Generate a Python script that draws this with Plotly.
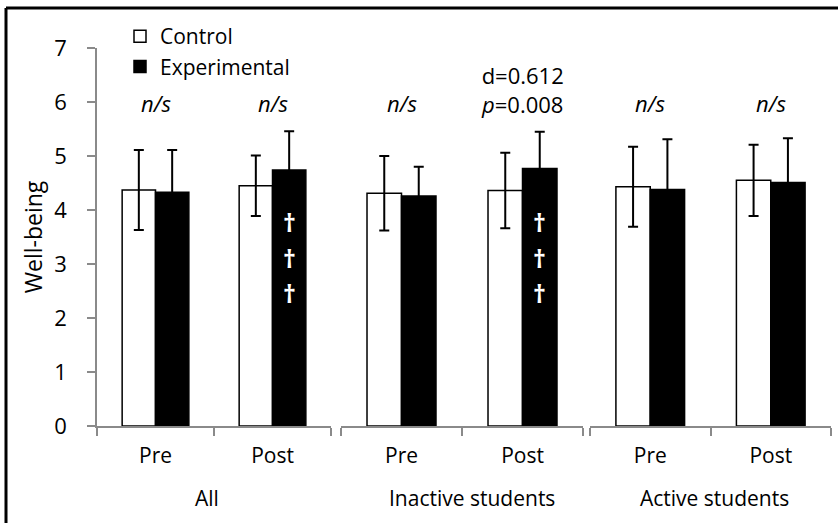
import plotly.graph_objects as go

# ---- data ----
groups = ["All", "Inactive students", "Active students"]
times = ["Pre", "Post"]
control_mean = [[4.37, 4.45], [4.31, 4.36], [4.43, 4.55]]
control_sd = [[0.74, 0.56], [0.69, 0.70], [0.74, 0.66]]
exp_mean = [[4.33, 4.74], [4.26, 4.77], [4.38, 4.51]]
exp_sd = [[0.78, 0.72], [0.54, 0.68], [0.93, 0.82]]
stat_labels = [["<i>n/s</i>", "<i>n/s</i>"],
               ["<i>n/s</i>", "d=0.612<br><i>p</i>=0.008"],
               ["<i>n/s</i>", "<i>n/s</i>"]]
stat_y = [[5.98, 5.98], [5.98, 6.23], [5.98, 5.98]]
dagger_groups = [0, 1]          # groups with daggers on Post experimental bar
dagger_y = [3.78, 3.11, 2.46]
y_ticks = [0, 1, 2, 3, 4, 5, 6, 7]

FONT = "Open Sans"
AX = "#8a8a8a"

W, H = 838, 523
L, R, T, B = 97, 7, 48, 97
pw = W - L - R
ph = H - T - B
segs_px = [(97, 331), (341, 583), (590, 831)]
domains = [[(a - L) / pw, (b - L) / pw] for a, b in segs_px]

fig = go.Figure()
for i, g in enumerate(groups):
    xa = "x" if i == 0 else f"x{i+1}"
    fig.add_trace(go.Bar(
        x=times, y=control_mean[i], xaxis=xa, yaxis="y",
        name="Control", legendgroup="c", showlegend=(i == 0),
        marker=dict(color="white", line=dict(color="black", width=1.5)),
        error_y=dict(type="data", array=control_sd[i], color="black",
                     thickness=2, width=5),
    ))
    fig.add_trace(go.Bar(
        x=times, y=exp_mean[i], xaxis=xa, yaxis="y",
        name="Experimental", legendgroup="e", showlegend=(i == 0),
        marker=dict(color="black", line=dict(color="black", width=1.5)),
        error_y=dict(type="data", array=exp_sd[i], color="black",
                     thickness=2, width=5),
    ))

layout = dict(
    width=W, height=H,
    margin=dict(l=L, r=R, t=T, b=B, pad=0),
    paper_bgcolor="white", plot_bgcolor="white",
    barmode="group", bargap=0.43, bargroupgap=0,
    font=dict(family=FONT, size=21, color="black"),
    showlegend=True,
    legend=dict(x=(120 - L) / pw, y=1 + (T - 16) / ph, xanchor="left", yanchor="top",
                bgcolor="rgba(0,0,0,0)", font=dict(size=21), tracegroupgap=0,
                itemwidth=30),
    yaxis=dict(range=[0, 7], tickvals=y_ticks, showline=True, linecolor=AX,
               linewidth=1.5, ticks="outside", ticklen=8, tickcolor=AX,
               tickwidth=1.5, showgrid=False, zeroline=False,
               tickfont=dict(size=22), ticklabelstandoff=16,
               title=dict(text="Well-being", font=dict(size=23), standoff=5),
               anchor="x"),
)
for i in range(3):
    key = "xaxis" if i == 0 else f"xaxis{i+1}"
    layout[key] = dict(domain=domains[i], anchor="y", type="category",
                       showline=True, linecolor=AX, linewidth=1.5,
                       ticks="outside", tickson="boundaries", ticklen=8,
                       tickcolor=AX, tickwidth=1.5, showgrid=False,
                       tickfont=dict(size=21), ticklabelstandoff=10)
fig.update_layout(**layout)

ann = []
gshift = [-7, 10, 4]
for i, g in enumerate(groups):
    xr = "x" if i == 0 else f"x{i+1}"
    ann.append(dict(text=g, xref=f"{xr} domain", x=0.5, yref="y domain", y=0,
                    yanchor="middle", yshift=-72, xshift=gshift[i],
                    showarrow=False, font=dict(size=21)))
    for j, t in enumerate(times):
        ann.append(dict(text=stat_labels[i][j], xref=xr, x=t, yref="y",
                        y=stat_y[i][j], showarrow=False, font=dict(size=22),
                        yanchor="middle"))
for i in dagger_groups:
    xr = "x" if i == 0 else f"x{i+1}"
    for yv in dagger_y:
        ann.append(dict(text="<b>†</b>", xref=xr, x="Post", xshift=16.5, yref="y", y=yv,
                        showarrow=False, font=dict(size=25, color="white"),
                        yanchor="middle"))
fig.update_layout(annotations=ann)

# outer frame lines (top and left)
fig.add_shape(type="line", xref="paper", yref="paper",
              x0=(6 - L) / pw, x1=(W + 5 - L) / pw,
              y0=1 + (T - 8) / ph, y1=1 + (T - 8) / ph,
              line=dict(color="black", width=3))
fig.add_shape(type="line", xref="paper", yref="paper",
              x0=(6 - L) / pw, x1=(6 - L) / pw,
              y0=1 + (T - 8) / ph, y1=-(B + 5) / ph,
              line=dict(color="black", width=3))

fig.write_html("out.html", config={"displayModeBar": False},
               post_script="document.body.style.margin='0';")
